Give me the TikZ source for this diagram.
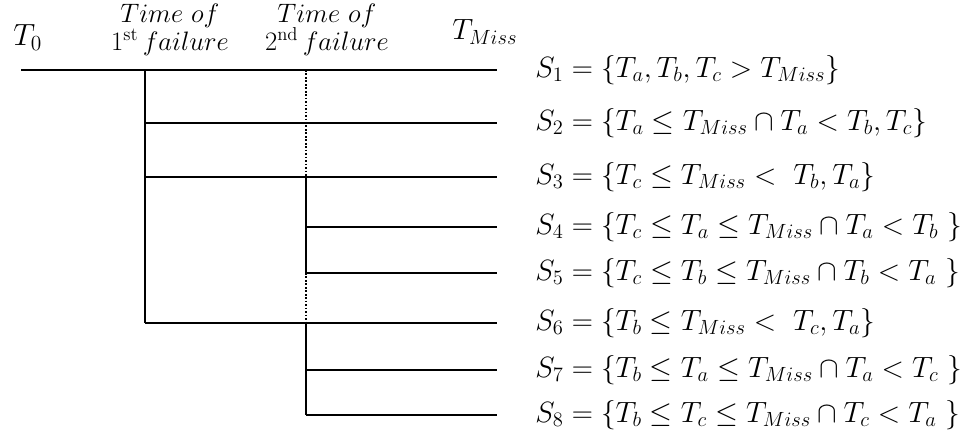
\RequirePackage{fix-cm}
\documentclass[tikz,border=0pt]{standalone}
\usepackage{xcolor}
\usepackage{tikz}

\begin{document}
\begin{tikzpicture}[x=0.75pt, y=-0.75pt,
  seg/.style={line width=1.5pt},
  gap/.style={line width=1.3pt, dash pattern=on 1.3pt off 1.3pt},
  lbl/.style={anchor=base west, inner sep=0pt, xshift=28.5pt, yshift=-5.4pt, font=\fontsize{22}{26}\selectfont},
  tag/.style={inner sep=0pt, font=\fontsize{20}{24}\selectfont}]
  \useasboundingbox (0,0) rectangle (961,434);
  % time axis
  \coordinate (start) at (21,70);
  \coordinate (first) at (145,70);
  \coordinate (second) at (306,70);
  \coordinate (e1) at (497,70);
  % branch points
  \coordinate (a2) at (145,123);
  \coordinate (a3) at (145,177);
  \coordinate (a6) at (145,323);
  \coordinate (b3) at (306,177);
  \coordinate (b4) at (306,227);
  \coordinate (b5) at (306,273);
  \coordinate (b6) at (306,323);
  \coordinate (b7) at (306,370);
  \coordinate (b8) at (306,415);
  % row ends
  \coordinate (e2) at (497,123);
  \coordinate (e3) at (497,177);
  \coordinate (e4) at (497,227);
  \coordinate (e5) at (497,273);
  \coordinate (e6) at (497,323);
  \coordinate (e7) at (497,370);
  \coordinate (e8) at (497,415);

  % headings
  \node (t0) [tag, anchor=base west, font=\fontsize{23}{27}\selectfont] at (13,46) {$T_0$};
  \node (tmiss) [tag, anchor=base west, font=\fontsize{22}{26}\selectfont] at (452,40) {$T_{Miss}$};
  \node (fail1) [tag, align=center, anchor=north] at (170,4) {$Time\ of$\\[-3.5pt]$1^{\mathrm{st}}\,failure$};
  \node (fail2) [tag, align=center, anchor=north] at (327,4) {$Time\ of$\\[-3.5pt]$2^{\mathrm{nd}}\,failure$};

  % tree
  \draw[seg] (start) -- (e1);
  \draw[seg] (first) -- (a6);
  \draw[seg] (a2) -- (e2);
  \draw[seg] (a3) -- (e3);
  \draw[seg] (a6) -- (e6);
  \draw[gap] (second) -- (b3);
  \draw[seg] (b3) -- (b5);
  \draw[gap] (b5) -- (b6);
  \draw[seg] (b6) -- (b8);
  \draw[seg] (b4) -- (e4);
  \draw[seg] (b5) -- (e5);
  \draw[seg] (b7) -- (e7);
  \draw[seg] (b8) -- (e8);

  % states
  \node (s1) [lbl] at (e1) {$S_1 = \{T_a, T_b, T_c > T_{Miss}\}$};
  \node (s2) [lbl] at (e2) {$S_2 = \{T_a \le T_{Miss} \cap T_a < T_b, T_c\}$};
  \node (s3) [lbl] at (e3) {$S_3 = \{T_c \le T_{Miss} < \ T_b, T_a\}$};
  \node (s4) [lbl] at (e4) {$S_4 = \{T_c \le T_a \le T_{Miss} \cap T_a < T_b\ \}$};
  \node (s5) [lbl] at (e5) {$S_5 = \{T_c \le T_b \le T_{Miss} \cap T_b < T_a\ \}$};
  \node (s6) [lbl] at (e6) {$S_6 = \{T_b \le T_{Miss} < \ T_c, T_a\}$};
  \node (s7) [lbl] at (e7) {$S_7 = \{T_b \le T_a \le T_{Miss} \cap T_a < T_c\ \}$};
  \node (s8) [lbl] at (e8) {$S_8 = \{T_b \le T_c \le T_{Miss} \cap T_c < T_a\ \}$};
\end{tikzpicture}
\end{document}
